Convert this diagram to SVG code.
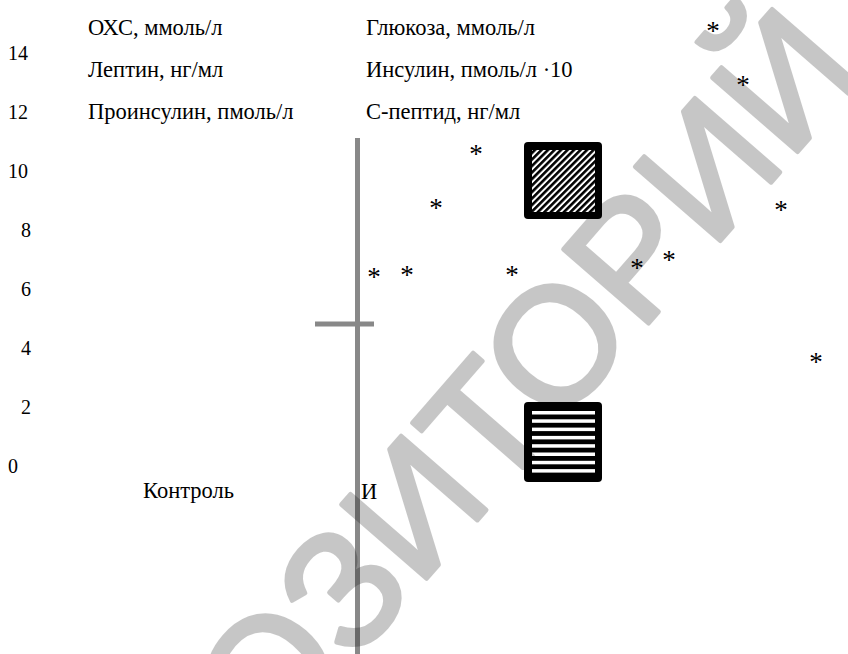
<svg xmlns="http://www.w3.org/2000/svg" width="848" height="654" viewBox="0 0 848 654">
<style>
.t{font-family:"Liberation Serif","Times New Roman",serif;font-size:22.5px;fill:#000}
.ax{font-family:"Liberation Serif","Times New Roman",serif;font-size:20px;fill:#000}
.st{font-family:"Liberation Serif","Times New Roman",serif;font-size:27px;fill:#000;text-anchor:middle}
.wm{font-family:"Liberation Sans",Arial,sans-serif;font-size:164px;fill:#000;stroke:#000;stroke-width:4.5;stroke-linejoin:round}
</style>
<defs>
<pattern id="diag" patternUnits="userSpaceOnUse" width="4.6" height="4.6" patternTransform="rotate(45)">
<rect width="4.6" height="4.6" fill="#fff"/>
<rect width="2.6" height="4.6" fill="#000"/>
</pattern>
</defs>
<rect width="848" height="654" fill="#fff"/>
<g id="y-axis-labels">
<text class="ax" x="8" y="60">14</text>
<text class="ax" x="8" y="119">12</text>
<text class="ax" x="8" y="178">10</text>
<text class="ax" x="21" y="237">8</text>
<text class="ax" x="21" y="296">6</text>
<text class="ax" x="21" y="355">4</text>
<text class="ax" x="21" y="414">2</text>
<text class="ax" x="8" y="473">0</text>
</g>
<g id="legend-text">
<text class="t" x="88" y="35">ОХС, ммоль/л</text>
<text class="t" x="88" y="77">Лептин, нг/мл</text>
<text class="t" x="88" y="119">Проинсулин, пмоль/л</text>
<text class="t" x="366" y="35">Глюкоза, ммоль/л</text>
<text class="t" x="366" y="77">Инсулин, пмоль/л ·10</text>
<text class="t" x="366" y="119">С-пептид, нг/мл</text>
</g>
<g id="connectors">
<line x1="357.5" y1="138" x2="357.5" y2="654" stroke="#888" stroke-width="5"/>
<line x1="315" y1="324" x2="374" y2="324" stroke="#888" stroke-width="5"/>
</g>
<g id="legend-hatched">
<rect x="524" y="142" width="78" height="77" rx="4" fill="#000"/>
<rect x="532" y="150" width="63" height="62" fill="url(#diag)"/>
</g>
<g id="legend-striped">
<rect x="524" y="402" width="78" height="80" rx="4" fill="#000"/>
<g fill="#fff">
<rect x="532" y="411" width="63" height="3.5"/>
<rect x="532" y="419.3" width="63" height="3.5"/>
<rect x="532" y="427.6" width="63" height="3.5"/>
<rect x="532" y="435.9" width="63" height="3.5"/>
<rect x="532" y="444.2" width="63" height="3.5"/>
<rect x="532" y="452.5" width="63" height="3.5"/>
<rect x="532" y="460.8" width="63" height="3.5"/>
<rect x="532" y="469.1" width="63" height="3.5"/>
</g>
</g>
<g id="asterisks">
<text class="st" x="713" y="40">*</text>
<text class="st" x="743" y="94">*</text>
<text class="st" x="476" y="163">*</text>
<text class="st" x="436" y="217">*</text>
<text class="st" x="781" y="219">*</text>
<text class="st" x="374" y="286">*</text>
<text class="st" x="407" y="284">*</text>
<text class="st" x="512" y="284">*</text>
<text class="st" x="637" y="277">*</text>
<text class="st" x="669" y="269">*</text>
<text class="st" x="816" y="371">*</text>
</g>
<g id="category-labels">
<text class="t" x="143" y="498">Контроль</text>
<text class="t" x="361" y="499">И</text>
</g>
<g id="watermark" opacity="0.22">
<text class="wm" transform="translate(48.2,1013.9) rotate(-49)">РЕПОЗИТОРИЙ</text>
</g>
</svg>
